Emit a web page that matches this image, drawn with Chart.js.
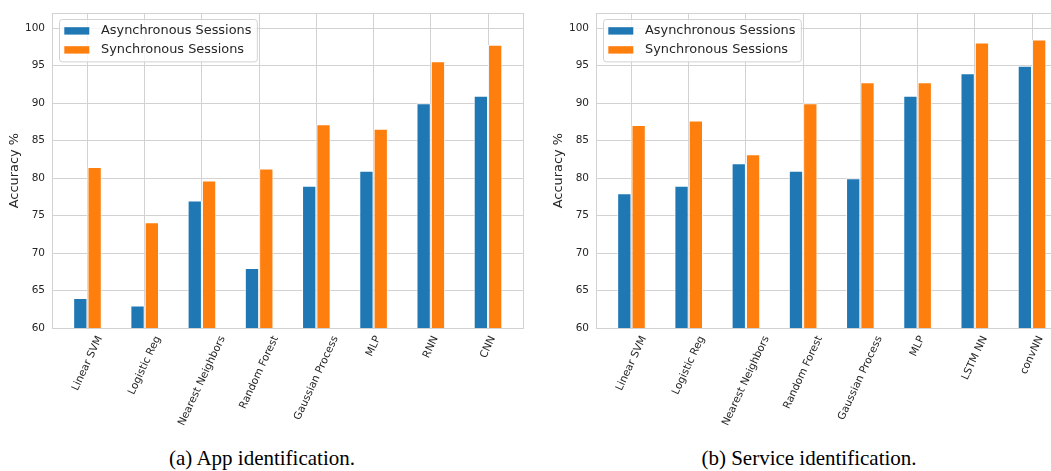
<!DOCTYPE html>
<html>
<head>
<meta charset="utf-8">
<script src="https://cdn.jsdelivr.net/npm/chart.js@4.4.1/dist/chart.umd.min.js"></script>
<style>
  html, body { margin: 0; padding: 0; background: #fff; width: 1051px; height: 471px; overflow: hidden; position: relative; }
  canvas { position: absolute; top: 0; }
  #appChart { left: 0; }
  #serviceChart { left: 525px; }
  .caption {
    position: absolute; top: 448px; width: 400px; line-height: 21px;
    font-family: "Liberation Serif", "Times New Roman", serif; font-size: 21px;
    color: #000; text-align: center; white-space: nowrap;
  }
</style>
</head>
<body>
<canvas id="appChart" width="525" height="440"></canvas>
<canvas id="serviceChart" width="552" height="440"></canvas>
<div class="caption" style="left:62px">(a) App identification.</div>
<div class="caption" style="left:609px">(b) Service identification.</div>

<script>
// ================= DATA =================
const appModels = ["Linear SVM", "Logistic Reg", "Nearest Neighbors", "Random Forest", "Gaussian Process", "MLP", "RNN", "CNN"];
const appAsync = [64, 63, 77, 68, 79, 81, 90, 91];
const appSync = [81.5, 74.1, 79.7, 81.3, 87.2, 86.6, 95.6, 97.8];

const serviceModels = ["Linear SVM", "Logistic Reg", "Nearest Neighbors", "Random Forest", "Gaussian Process", "MLP", "LSTM NN", "convNN"];
const serviceAsync = [78, 79, 82, 81, 80, 91, 94, 95];
const serviceSync = [87.1, 87.7, 83.2, 90.0, 92.8, 92.8, 98.1, 98.5];

const seriesNames = ["Asynchronous Sessions", "Synchronous Sessions"];
const seriesColors = ["#1f77b4", "#ff7f0e"];
const yTicks = [60, 65, 70, 75, 80, 85, 90, 95, 100];
const yRange = [60, 102];


// ================= STYLE =================
const FONT = "'DejaVu Sans', sans-serif";
const TEXT = "#262626";
const GRID = "#d2d2d2";
const LABEL_ANGLE = 65;

Chart.defaults.font.family = FONT;
Chart.defaults.color = TEXT;


// ================= LEGEND INSIDE THE AXES =================
const innerLegend = {
  id: "innerLegend",
  afterDatasetsDraw(chart) {
    const { ctx, chartArea } = chart;
    ctx.save();
    ctx.font = "12.9px " + FONT;

    const sets = chart.data.datasets;
    const textW = Math.max(...sets.map(d => ctx.measureText(d.label).width));
    const x = chartArea.left + 6.6;
    const y = chartArea.top + 6;
    const w = 42.4 + textW + 5;
    const h = 42.4;

    ctx.beginPath();
    ctx.roundRect(Math.round(x) + 0.5, Math.round(y) + 0.5, w, h, 3);
    ctx.fillStyle = "rgba(255,255,255,0.8)";
    ctx.fill();
    ctx.strokeStyle = GRID;
    ctx.lineWidth = 1;
    ctx.stroke();

    sets.forEach((d, i) => {
      const cy = y + 11.6 + i * 19;
      ctx.fillStyle = d.backgroundColor;
      ctx.fillRect(x + 5.7, cy - 3.7, 25, 7.4);
      ctx.fillStyle = TEXT;
      ctx.textAlign = "left";
      ctx.textBaseline = "middle";
      ctx.fillText(d.label, x + 42.4, cy);
    });
    ctx.restore();
  }
};


// ================= SLANTED CATEGORY LABELS (centred like matplotlib) =================
const slantLabels = {
  id: "slantLabels",
  afterDraw(chart) {
    const { ctx, chartArea } = chart;
    const xScale = chart.scales.x;
    const a = LABEL_ANGLE * Math.PI / 180;

    ctx.save();
    ctx.font = "10.5px " + FONT;
    ctx.fillStyle = TEXT;
    ctx.textAlign = "right";
    ctx.textBaseline = "middle";

    chart.data.labels.forEach((label, i) => {
      const w = ctx.measureText(label).width;
      const px = xScale.getPixelForValue(i) + w * Math.cos(a) / 2;
      const py = chartArea.bottom + 8.7;
      ctx.save();
      ctx.translate(px, py);
      ctx.rotate(-a);
      ctx.fillText(label, 0, 0);
      ctx.restore();
    });
    ctx.restore();
  }
};


// ================= BUILD ONE PANEL =================
function drawPanel(canvasId, models, asyncVals, syncVals, axisWidth, titleCenter, padRight) {

  const toPoints = vals => vals.map((v, i) => ({ x: i, y: v }));

  const datasets = [asyncVals, syncVals].map((vals, k) => ({
    label: seriesNames[k],
    data: toPoints(vals),
    backgroundColor: seriesColors[k],
    borderColor: "rgba(255,255,255,0.8)",
    borderWidth: 1,
    categoryPercentage: 0.5,
    barPercentage: 1.0,
    xAxisID: "x",
    yAxisID: "y"
  }));

  const titleFont = 12.9;
  const titlePad = titleCenter - titleFont * 1.2 / 2;

  new Chart(document.getElementById(canvasId), {
    type: "bar",
    data: { labels: models, datasets },
    plugins: [innerLegend, slantLabels],
    options: {
      responsive: false,
      animation: false,
      events: [],
      layout: { padding: { left: 0, right: padRight, top: 10, bottom: 0 } },
      plugins: {
        legend: { display: false },
        tooltip: { enabled: false }
      },
      scales: {
        x: {
          type: "linear",
          position: "bottom",
          offset: false,
          min: -0.62,
          max: models.length - 1 + 0.62,
          afterBuildTicks: s => { s.ticks = models.map((_, i) => ({ value: i })); },
          afterFit: s => { s.height = 112; },
          ticks: { display: false },
          grid: { color: GRID, lineWidth: 1, drawTicks: false, offset: false },
          border: { color: GRID, width: 1 }
        },
        y: {
          type: "linear",
          position: "left",
          min: yRange[0],
          max: yRange[1],
          afterBuildTicks: s => { s.ticks = yTicks.map(v => ({ value: v })); },
          afterFit: s => { s.width = axisWidth; },
          ticks: {
            padding: 7,
            font: { size: 10.5 },
            color: TEXT
          },
          grid: { color: GRID, lineWidth: 1, drawTicks: false },
          border: { color: GRID, width: 1 },
          title: {
            display: true,
            text: "Accuracy %",
            color: TEXT,
            font: { size: titleFont },
            padding: { top: titlePad, bottom: 0 }
          }
        },
        // frame on the top and right, like the axes spines
        xTop: {
          type: "linear",
          position: "top",
          offset: false,
          afterFit: s => { s.height = 0; },
          ticks: { display: false },
          grid: { display: false, drawTicks: false },
          border: { color: GRID, width: 1 }
        },
        yRight: {
          type: "linear",
          position: "right",
          afterFit: s => { s.width = 0; },
          ticks: { display: false },
          grid: { display: false, drawTicks: false },
          border: { color: GRID, width: 1 }
        }
      }
    }
  });
}


// ================= START =================
drawPanel("appChart", appModels, appAsync, appSync, 52, 15, 1.5);
drawPanel("serviceChart", serviceModels, serviceAsync, serviceSync, 71, 34, 9.5);
</script>
</body>
</html>
